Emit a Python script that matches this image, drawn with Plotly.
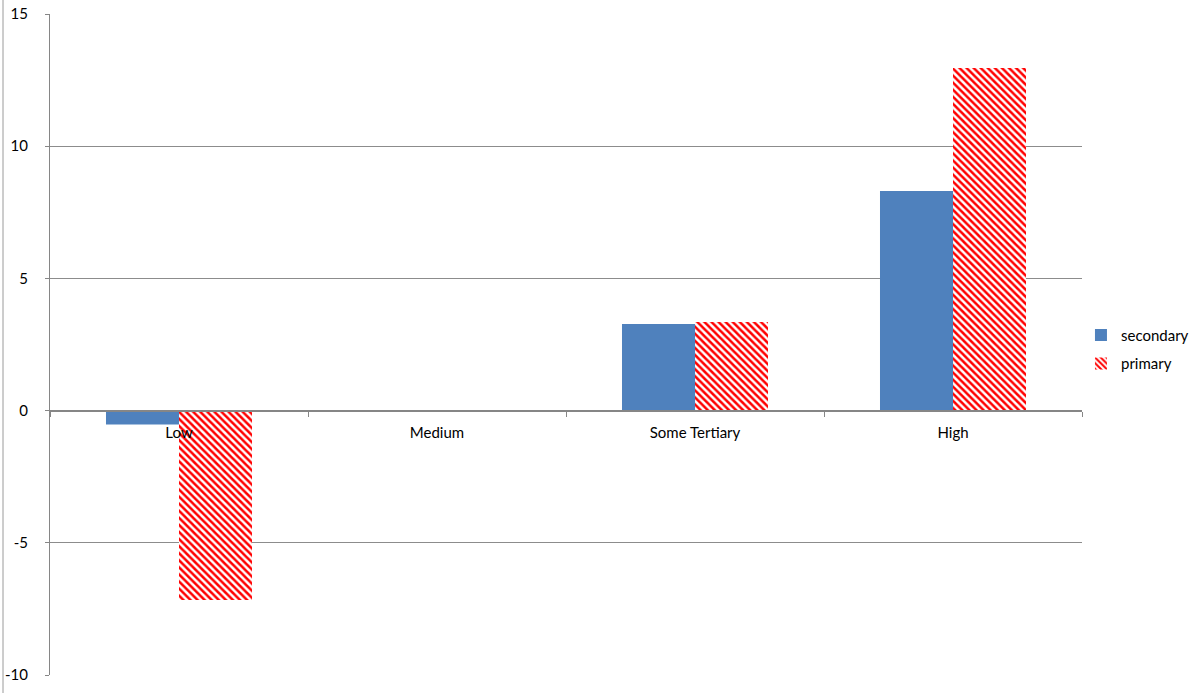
import plotly.graph_objects as go

categories = ["Low", "Medium", "Some Tertiary", "High"]
secondary = [-0.53, 0.0, 3.28, 8.31]
primary = [-7.16, 0.0, 3.35, 12.96]
y_ticks = [-10, -5, 0, 5, 10, 15]

FONT = "Lato, 'Open Sans', sans-serif"
GRID = "#8c8c8c"

fig = go.Figure()
fig.add_trace(go.Bar(
    name="secondary", x=categories, y=secondary, legendgroup="a",
    marker=dict(color="#4f81bd", line=dict(width=0)),
))
fig.add_trace(go.Bar(
    name="primary", x=categories, y=primary, legendgroup="b",
    marker=dict(
        color="#ff0000",
        line=dict(width=0),
        pattern=dict(shape="\\", fgcolor="#ff0000", bgcolor="white",
                     size=5, solidity=0.5, fillmode="replace", fgopacity=1),
    ),
))

W, H = 1200, 693
ml, mr, mt, mb = 50, 118, 14, 18
plot_w = W - ml - mr
plot_h = H - mt - mb

fig.update_layout(
    width=W, height=H,
    margin=dict(l=ml, r=mr, t=mt, b=mb, pad=0, autoexpand=False),
    paper_bgcolor="white", plot_bgcolor="white",
    barmode="group", bargap=0.434, bargroupgap=0,
    font=dict(family=FONT, size=15, color="#000000"),
    showlegend=True,
    legend=dict(x=0.999, y=0.493, xanchor="left", yanchor="middle",
                font=dict(family=FONT, size=15), traceorder="grouped",
                tracegroupgap=6, itemwidth=30, bgcolor="rgba(0,0,0,0)"),
    xaxis=dict(
        type="category", anchor="free", position=10 / 25,
        showline=True, linecolor="#868686", linewidth=2,
        ticks="outside", tickson="boundaries", ticklen=5,
        tickcolor="#868686", tickwidth=1,
        showgrid=False, zeroline=False, ticklabelstandoff=8,
        tickfont=dict(family=FONT, size=15),
    ),
    yaxis=dict(
        range=[-10, 15], tickvals=y_ticks, ticktext=[str(v) for v in y_ticks],
        showline=True, linecolor="#868686", linewidth=1,
        ticks="outside", ticklen=4, tickcolor="#868686",
        showgrid=True, gridcolor=GRID, gridwidth=1,
        zeroline=False, ticklabelstandoff=14,
        tickfont=dict(family=FONT, size=15),
    ),
    shapes=[dict(
        type="line", xref="paper", yref="paper",
        x0=-47 / plot_w, x1=-47 / plot_w,
        y0=-mb / plot_h, y1=1 + mt / plot_h,
        line=dict(color="#9a9a9a", width=1),
    )],
)

fig.write_html("out.html")
